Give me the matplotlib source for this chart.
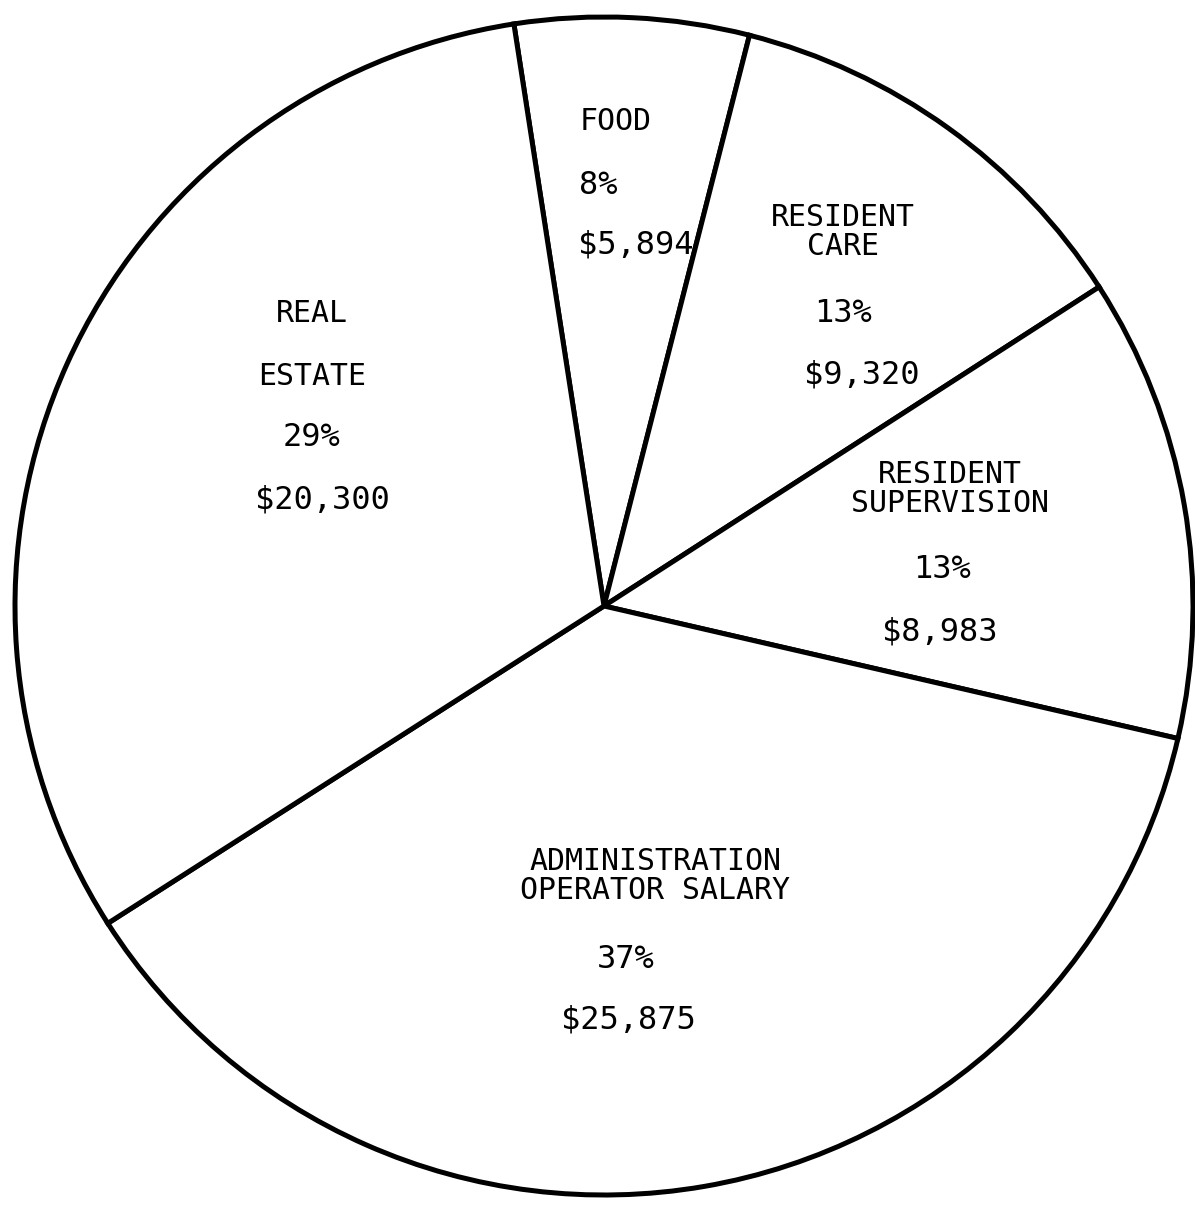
import matplotlib
matplotlib.use("Agg")
from matplotlib import pyplot as plt

# slice data (clockwise from the top)
categories = ["FOOD", "RESIDENT\nCARE", "RESIDENT\nSUPERVISION",
              "ADMINISTRATION\nOPERATOR SALARY", "REAL\n\nESTATE"]
percents = ["8%", "13%", "13%", "37%", "29%"]
amounts = ["$5,894", "$9,320", "$8,983", "$25,875", "$20,300"]
# drawn wedge sizes in degrees, measured on the picture
wedge_deg = [23.1, 42.9, 45.8, 134.4, 113.8]

W, H = 1195, 1205
cx, cy = 604, H - 606
R = 589

fig = plt.figure(figsize=(W / 100, H / 100), dpi=100)
ax = fig.add_axes([0, 0, 1, 1])

ax.pie(wedge_deg, startangle=98.8, counterclock=False, center=(cx, cy), radius=R,
       colors=["white"] * len(wedge_deg),
       wedgeprops=dict(edgecolor="black", linewidth=3.6))
ax.set_xlim(0, W)
ax.set_ylim(0, H)
ax.set_aspect("auto")
ax.axis("off")

# label placement (pixel coords from top-left): name line, pct, amount
layout = [
    (616, 122, 598, 185, 636, 245),
    (843, 232, 843, 313, 862, 375),
    (950, 489, 942, 570, 940, 632),
    (655, 876, 626, 960, 628, 1020),
    (312, 345, 312, 437, 322, 500),
]

num_font = dict(family="DejaVu Sans Mono", fontsize=23)

for i in range(len(categories)):
    nx, ny, px, py, mx, my = layout[i]
    ls = 1.0
    if i == 4:
        ls = 1.1
    ax.text(nx, H - ny, categories[i], ha="center", va="center",
            family="DejaVu Sans Mono", fontsize=21.5, linespacing=ls)
    ax.text(px, H - py, percents[i], ha="center", va="center", **num_font)
    ax.text(mx, H - my, amounts[i], ha="center", va="center", **num_font)

fig.savefig("out.png", dpi=100, facecolor="white")
